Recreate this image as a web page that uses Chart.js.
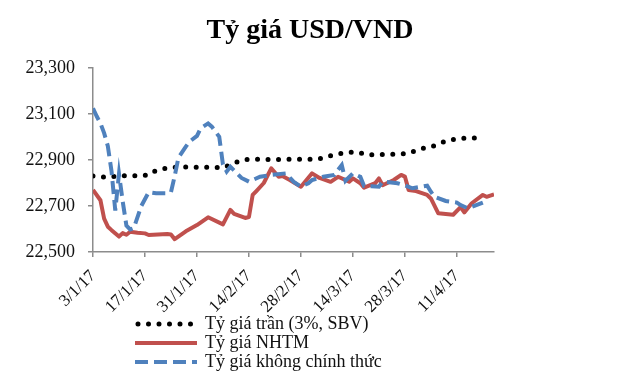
<!DOCTYPE html>
<html>
<head>
<meta charset="utf-8">
<script src="https://cdn.jsdelivr.net/npm/chart.js@4/dist/chart.umd.min.js"></script>
<style>
  html, body { margin: 0; padding: 0; background: #fff; }
  #wrap { position: relative; width: 639px; height: 379px; }
  #title {
    position: absolute; left: 0; width: 620px; top: 13px; text-align: center;
    font-family: "Liberation Serif", "DejaVu Serif", serif; font-size: 28px; font-weight: bold; color: #000;
  }
  #legend {
    position: absolute; left: 135px; top: 314px;
    font-family: "Liberation Serif", "DejaVu Serif", serif; font-size: 18px; color: #111;
  }
  .row { height: 19px; display: flex; align-items: center; }
  .row svg { width: 64px; height: 12px; margin-right: 6px; }
</style>
</head>
<body>
<div id="wrap">
  <canvas id="rateChart" width="639" height="379"></canvas>
  <div id="title">Tỷ giá USD/VND</div>
  <div id="legend"></div>
</div>
<script>
// x positions are days counted from 3/1/17
const tickDays = [0, 14, 28, 42, 56, 70, 84, 98];
const tickLabels = ['3/1/17', '17/1/17', '31/1/17', '14/2/17', '28/2/17', '14/3/17', '28/3/17', '11/4/17'];

const sbvDays  = [0, 4, 7, 10, 13, 15, 17, 20, 23, 26, 29, 32, 35, 37, 40, 43, 46, 49, 52, 55, 58, 61, 63, 66, 68, 71, 74, 77, 80, 82, 85, 88, 91, 94, 96, 99, 102, 105];
const sbvRates = [22830, 22825, 22832, 22832, 22832, 22835, 22855, 22865, 22870, 22870, 22868, 22868, 22866, 22880, 22900, 22905, 22902, 22902, 22903, 22903, 22903, 22905, 22915, 22926, 22933, 22935, 22922, 22924, 22925, 22926, 22929, 22948, 22956, 22976, 22987, 22994, 22995, 22996];

const nhtmDays  = [0, 2, 3, 4, 5, 7, 8, 9, 10, 12, 14, 15, 20, 21, 22, 25, 28, 31, 35, 37, 38, 41, 42, 43, 44, 46, 48, 50, 51, 53, 56, 59, 61, 64, 66, 69, 70, 72, 73, 76, 77, 78, 81, 83, 84, 85, 87, 90, 91, 93, 97, 99, 100, 102, 105, 106, 108];
const nhtmRates = [22770, 22725, 22645, 22610, 22595, 22567, 22582, 22575, 22588, 22584, 22581, 22574, 22578, 22576, 22556, 22590, 22617, 22651, 22620, 22683, 22666, 22648, 22652, 22748, 22765, 22800, 22864, 22827, 22830, 22813, 22784, 22842, 22822, 22805, 22827, 22806, 22820, 22799, 22780, 22799, 22820, 22790, 22813, 22835, 22828, 22770, 22765, 22748, 22733, 22668, 22662, 22695, 22672, 22712, 22748, 22740, 22750];

const freeDays  = [0, 1, 2, 3, 4, 5, 6, 7, 8, 9, 10, 11, 13, 15, 17, 20, 21, 22, 23, 25, 26, 28, 29, 31, 32, 34, 35, 36, 37, 40, 42, 45, 48, 52, 54, 56, 58, 59, 62, 65, 66, 67, 68, 70, 72, 73, 75, 77, 78, 82, 84, 86, 90, 91, 92, 95, 98, 99, 101, 105];
const freeRates = [23125, 23090, 23060, 23017, 22960, 22850, 22680, 22840, 22720, 22615, 22598, 22604, 22700, 22760, 22755, 22755, 22760, 22830, 22910, 22958, 22980, 23005, 23038, 23059, 23045, 23001, 22880, 22850, 22871, 22822, 22806, 22827, 22835, 22842, 22806, 22784, 22799, 22813, 22827, 22835, 22857, 22878, 22810, 22842, 22827, 22787, 22786, 22784, 22806, 22799, 22790, 22777, 22788, 22762, 22740, 22722, 22715, 22704, 22690, 22715];

const serif = '"Liberation Serif", "DejaVu Serif", serif';
const axisColor = '#8c8c8c';

function toPoints(days, rates) {
    return days.map((d, i) => ({ x: d, y: rates[i] }));
}

const datasets = [
    {
        label: 'Tỷ giá trần (3%, SBV)',
        data: toPoints(sbvDays, sbvRates),
        borderColor: '#000',
        borderWidth: 5,
        borderDash: [0, 10.5],
        borderCapStyle: 'round',
        order: 2
    },
    {
        label: 'Tỷ giá NHTM',
        data: toPoints(nhtmDays, nhtmRates),
        borderColor: '#c0504d',
        borderWidth: 4,
        borderJoinStyle: 'round',
        order: 1
    },
    {
        label: 'Tỷ giá không chính thức',
        data: toPoints(freeDays, freeRates),
        borderColor: '#4f81bd',
        borderWidth: 4,
        borderDash: [13, 6],
        order: 0
    }
];

const ctx = document.getElementById('rateChart').getContext('2d');

new Chart(ctx, {
    type: 'line',
    data: { datasets: datasets },
    options: {
        responsive: false,
        animation: false,
        elements: { point: { radius: 0 }, line: { tension: 0, fill: false } },
        layout: { padding: { left: 0, right: 145, top: 68, bottom: 0 } },
        plugins: {
            legend: { display: false },
            tooltip: { enabled: false }
        },
        scales: {
            x: {
                type: 'linear',
                min: 0,
                max: 108,
                afterFit: s => { s.height = 127; },
                afterBuildTicks: s => { s.ticks = tickDays.map(v => ({ value: v })); },
                grid: { drawOnChartArea: false, tickLength: 5, color: axisColor, lineWidth: 1.5 },
                border: { color: axisColor, width: 1.5 },
                ticks: {
                    autoSkip: false,
                    minRotation: 45,
                    maxRotation: 45,
                    padding: 9,
                    color: '#111',
                    font: { family: serif, size: 17 },
                    callback: v => tickLabels[tickDays.indexOf(v)]
                }
            },
            y: {
                min: 22500,
                max: 23300,
                afterFit: s => { s.width = 93; },
                grid: { drawOnChartArea: false, tickLength: 5, color: axisColor, lineWidth: 1.5 },
                border: { color: axisColor, width: 1.5 },
                ticks: {
                    stepSize: 200,
                    padding: 13,
                    color: '#111',
                    font: { family: serif, size: 18 },
                    callback: v => v.toLocaleString('en-US')
                }
            }
        }
    }
});

// legend drawn as html rows under the chart
const legendBox = document.getElementById('legend');
datasets.forEach(ds => {
    const row = document.createElement('div');
    row.className = 'row';
    let line;
    if (ds.borderDash && ds.borderDash[0] === 0) {
        line = `<line x1="3" y1="6" x2="58" y2="6" stroke="${ds.borderColor}" stroke-width="5" stroke-linecap="round" stroke-dasharray="0 10.5"/>`;
    } else if (ds.borderDash) {
        line = `<line x1="0" y1="6" x2="62" y2="6" stroke="${ds.borderColor}" stroke-width="4" stroke-dasharray="13 6"/>`;
    } else {
        line = `<line x1="0" y1="6" x2="62" y2="6" stroke="${ds.borderColor}" stroke-width="4"/>`;
    }
    row.innerHTML = `<svg viewBox="0 0 64 12">${line}</svg><span>${ds.label}</span>`;
    legendBox.appendChild(row);
});
</script>
</body>
</html>
